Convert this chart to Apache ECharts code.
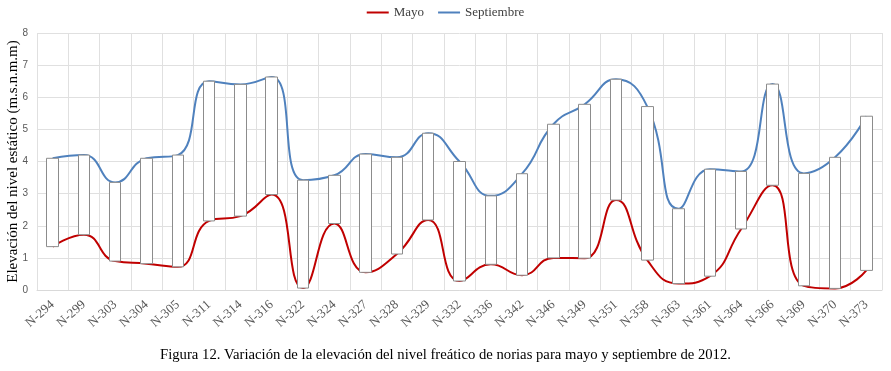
<!DOCTYPE html>
<html>
<head>
<meta charset="utf-8">
<script src="https://cdn.jsdelivr.net/npm/echarts@6/dist/echarts.min.js"></script>
<style>
  html, body { margin: 0; padding: 0; background: #fff; }
  #chart { width: 891px; height: 371px; }
</style>
</head>
<body>
<div id="chart"></div>
<script>
// norias
const categories = ['N-294', 'N-299', 'N-303', 'N-304', 'N-305', 'N-311', 'N-314', 'N-316', 'N-322',
  'N-324', 'N-327', 'N-328', 'N-329', 'N-332', 'N-336', 'N-342', 'N-346', 'N-349', 'N-351',
  'N-358', 'N-363', 'N-361', 'N-364', 'N-366', 'N-369', 'N-370', 'N-373'];
const mayo = [1.35, 1.72, 0.9, 0.82, 0.72, 2.15, 2.3, 2.97, 0.06,
  2.07, 0.55, 1.12, 2.18, 0.28, 0.8, 0.46, 1.0, 0.99, 2.8,
  0.93, 0.2, 0.43, 1.9, 3.26, 0.13, 0.05, 0.61];
const septiembre = [4.1, 4.2, 3.35, 4.1, 4.2, 6.5, 6.4, 6.63, 3.42,
  3.57, 4.23, 4.13, 4.88, 4.0, 2.93, 3.62, 5.16, 5.78, 6.56,
  5.71, 2.53, 3.76, 3.69, 6.41, 3.63, 4.13, 5.41];
const yTicks = [0, 1, 2, 3, 4, 5, 6, 7, 8];

// barras de variacion (mayo -> septiembre)
const boxes = categories.map((c, i) => {
  const lo = Math.min(mayo[i], septiembre[i]);
  const hi = Math.max(mayo[i], septiembre[i]);
  return [mayo[i], septiembre[i], lo, hi];
});

const chart = echarts.init(document.getElementById('chart'));
const serif = '"Liberation Serif", "DejaVu Serif", serif';

chart.setOption({
  animation: false,
  title: {
    text: 'Figura 12. Variación de la elevación del nivel freático de norias para mayo y septiembre de 2012.',
    left: 'center',
    bottom: 3,
    textStyle: { fontFamily: serif, fontSize: 14.7, fontWeight: 'normal', color: '#000' },
  },
  legend: {
    top: 1,
    left: 'center',
    data: ['Mayo', 'Septiembre'],
    icon: 'rect',
    itemWidth: 22,
    itemHeight: 2,
    itemGap: 14,
    textStyle: { fontFamily: serif, fontSize: 13, color: '#404040' },
  },
  grid: { left: 37, right: 9, top: 33, bottom: 81, outerBoundsMode: 'none' },
  xAxis: {
    type: 'category',
    data: categories,
    boundaryGap: true,
    axisLine: { show: true, lineStyle: { color: '#d9d9d9' } },
    axisTick: { show: false },
    splitLine: { show: true, interval: 0, lineStyle: { color: '#e0e0e0' } },
    axisLabel: {
      interval: 0,
      rotate: 41,
      margin: 13,
      fontFamily: serif,
      fontSize: 13,
      color: '#595959',
    },
  },
  yAxis: {
    type: 'value',
    min: yTicks[0],
    max: yTicks[yTicks.length - 1],
    interval: 1,
    name: 'Elevación del nivel estático (m.s.n.m.m)',
    nameLocation: 'middle',
    nameGap: 16,
    nameMoveOverlap: false,
    nameTextStyle: { fontFamily: serif, fontSize: 15, color: '#000' },
    axisLine: { show: false },
    axisTick: { show: false },
    splitLine: { lineStyle: { color: '#e0e0e0' } },
    axisLabel: { fontSize: 10, color: '#595959', margin: 9 },
  },
  series: [
    {
      name: 'Mayo',
      type: 'line',
      data: mayo,
      smooth: 0.5,
      showSymbol: false,
      lineStyle: { color: '#c00000', width: 2 },
      itemStyle: { color: '#c00000' },
      z: 2,
    },
    {
      name: 'Septiembre',
      type: 'line',
      data: septiembre,
      smooth: 0.5,
      showSymbol: false,
      lineStyle: { color: '#4f81bd', width: 2 },
      itemStyle: { color: '#4f81bd' },
      z: 2,
    },
    {
      name: 'Variación',
      type: 'candlestick',
      data: boxes,
      barWidth: 12,
      itemStyle: {
        color: '#fff',
        color0: '#fff',
        borderColor: '#8c8c8c',
        borderColor0: '#595959',
        borderWidth: 1,
      },
      z: 5,
    },
  ],
});
</script>
</body>
</html>
